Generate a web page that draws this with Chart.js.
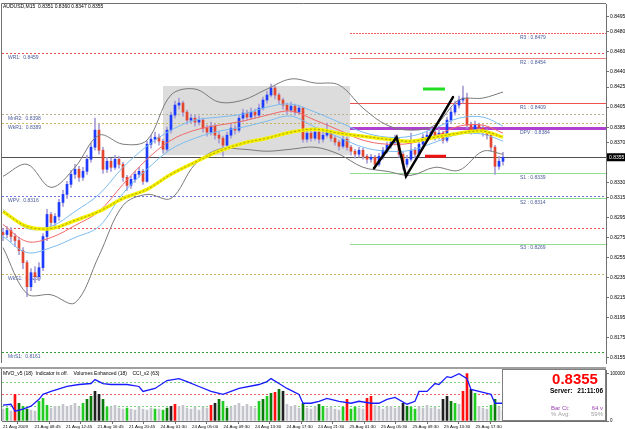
<!DOCTYPE html>
<html>
<head>
<meta charset="utf-8">
<script src="https://cdn.jsdelivr.net/npm/chart.js@4/dist/chart.umd.min.js"></script>
<style>
  html, body { margin: 0; padding: 0; background: #fff; }
  #wrap { position: relative; width: 625px; height: 429px; overflow: hidden; background: #fff; }
  #main { position: absolute; left: 0; top: 0; }
  #sub { position: absolute; left: 0; top: 367px; }
</style>
</head>
<body>
<div id="wrap">
  <canvas id="main" width="625" height="367"></canvas>
  <canvas id="sub" width="625" height="62"></canvas>
</div>
<script>
/* global Chart */

// ---- data (prices in pips, 8355 = 0.8355) ----
const symbol = 'AUDUSD,M15';
const timeLabels = ['21 Aug 2009', '21 Aug 08:45', '21 Aug 12:45', '21 Aug 16:45', '21 Aug 20:45',
  '24 Aug 01:30', '24 Aug 05:00', '24 Aug 09:30', '24 Aug 13:30', '24 Aug 17:30', '24 Aug 21:30',
  '25 Aug 01:30', '25 Aug 05:30', '25 Aug 09:30', '25 Aug 13:30', '25 Aug 17:30'];
const priceTicks = [0.8495, 0.8480, 0.8460, 0.8440, 0.8425, 0.8405, 0.8385, 0.8370, 0.8330, 0.8315,
  0.8295, 0.8275, 0.8255, 0.8235, 0.8215, 0.8195, 0.8175, 0.8155];

const firstOpen = 8280;
const closes = [
  8278, 8282, 8276, 8272, 8262, 8250, 8226, 8240, 8236, 8245,
  8276, 8298, 8290, 8296, 8310, 8318, 8328, 8338, 8343, 8335,
  8341, 8353, 8365, 8382, 8362, 8343, 8351, 8345, 8353, 8348,
  8335, 8327, 8333, 8338, 8341, 8331, 8368, 8373, 8375, 8371,
  8363, 8382, 8397, 8407, 8409, 8400, 8392, 8394, 8390, 8392,
  8384, 8380, 8386, 8377, 8374, 8367, 8377, 8384, 8382, 8394,
  8399, 8395, 8400, 8397, 8404, 8412, 8417, 8424, 8417, 8412,
  8407, 8402, 8406, 8400, 8404, 8373, 8379, 8374, 8380, 8373,
  8377, 8380, 8374, 8370, 8366, 8373, 8365, 8361, 8358, 8362,
  8356, 8353, 8355, 8348, 8356, 8362, 8367, 8370, 8372, 8358,
  8348, 8353, 8362, 8358, 8368, 8375, 8377, 8380, 8375, 8379,
  8372, 8392, 8400, 8407, 8412, 8414, 8387, 8382, 8387, 8384,
  8380, 8377, 8365, 8346, 8351, 8355];
const highs = [
  8284, 8286, 8285, 8279, 8275, 8265, 8252, 8244, 8246, 8250,
  8279, 8303, 8300, 8299, 8313, 8322, 8331, 8342, 8348, 8346,
  8345, 8357, 8369, 8394, 8388, 8365, 8355, 8354, 8357, 8356,
  8350, 8337, 8336, 8341, 8345, 8343, 8371, 8377, 8380, 8378,
  8373, 8385, 8400, 8411, 8414, 8411, 8402, 8398, 8397, 8396,
  8394, 8387, 8390, 8388, 8380, 8376, 8380, 8388, 8387, 8397,
  8403, 8402, 8404, 8403, 8408, 8415, 8421, 8428, 8426, 8419,
  8414, 8409, 8410, 8408, 8407, 8405, 8383, 8381, 8383, 8382,
  8381, 8389, 8382, 8376, 8372, 8376, 8375, 8367, 8363, 8365,
  8364, 8358, 8358, 8357, 8359, 8365, 8370, 8374, 8377, 8374,
  8360, 8357, 8379, 8365, 8371, 8378, 8381, 8384, 8382, 8383,
  8381, 8395, 8404, 8411, 8416, 8426, 8419, 8390, 8391, 8389,
  8387, 8383, 8379, 8367, 8356, 8360];
const lows = [
  8272, 8275, 8271, 8266, 8258, 8244, 8216, 8222, 8230, 8232,
  8242, 8272, 8285, 8286, 8292, 8306, 8314, 8325, 8334, 8331,
  8332, 8338, 8350, 8362, 8358, 8339, 8340, 8341, 8343, 8344,
  8331, 8322, 8324, 8330, 8335, 8328, 8330, 8364, 8369, 8367,
  8359, 8361, 8379, 8394, 8403, 8396, 8388, 8389, 8386, 8387,
  8380, 8376, 8377, 8373, 8369, 8356, 8364, 8374, 8378, 8380,
  8391, 8392, 8393, 8394, 8395, 8402, 8409, 8415, 8413, 8408,
  8403, 8398, 8400, 8397, 8398, 8370, 8370, 8371, 8372, 8369,
  8370, 8375, 8371, 8367, 8362, 8364, 8362, 8357, 8354, 8355,
  8353, 8349, 8350, 8344, 8346, 8353, 8359, 8364, 8367, 8355,
  8343, 8345, 8351, 8354, 8356, 8365, 8372, 8374, 8372, 8373,
  8369, 8370, 8389, 8397, 8404, 8409, 8384, 8378, 8379, 8380,
  8376, 8373, 8361, 8338, 8343, 8347];

// indicator lines, read every 6 bars
const maBars = [0, 6, 12, 18, 24, 30, 36, 42, 48, 54, 60, 66, 72, 78, 84, 90, 96, 102, 108, 114, 120, 125];
const yellowMa = [8301, 8286, 8284, 8292, 8301, 8314, 8323, 8338, 8350, 8361, 8369, 8374, 8380, 8383, 8379, 8376, 8373, 8371, 8375, 8379, 8381, 8375];
const redMa = [8288, 8271, 8275, 8287, 8301, 8328, 8353, 8372, 8382, 8387, 8391, 8397, 8401, 8392, 8382, 8372, 8368, 8369, 8376, 8386, 8387, 8379];
const envUpper = [8303, 8284, 8286, 8301, 8318, 8345, 8366, 8382, 8392, 8395, 8398, 8405, 8408, 8400, 8390, 8380, 8375, 8376, 8384, 8394, 8395, 8386];
const envLower = [8276, 8260, 8265, 8275, 8286, 8319, 8343, 8363, 8374, 8381, 8385, 8391, 8396, 8385, 8375, 8365, 8361, 8362, 8370, 8378, 8378, 8371];
const bandUpper = [8336, 8348, 8325, 8345, 8377, 8368, 8372, 8417, 8423, 8410, 8412, 8423, 8433, 8429, 8427, 8404, 8387, 8382, 8387, 8412, 8414, 8420];
const bandLower = [8265, 8219, 8218, 8210, 8257, 8307, 8318, 8314, 8348, 8363, 8363, 8361, 8363, 8365, 8358, 8345, 8341, 8337, 8345, 8342, 8361, 8358];

// pivot levels
const dailyNames = ['R3', 'R2', 'R1', 'DPV', 'S1', 'S2', 'S3'];
const dailyValues = [0.8479, 0.8454, 0.8409, 0.8384, 0.8339, 0.8314, 0.8269];
const otherNames = ['WR1', 'MnR2', 'WkR1', 'WPV', '', 'WkS1', 'MnS1'];
const otherValues = [0.8459, 0.8398, 0.8389, 0.8316, 0.8285, 0.8239, 0.8161];

// drawn objects
const boxBars = [40, 86.75];
const boxPrices = [0.8426, 0.8357];
const zigBars = [92.75, 98.4, 100.75, 112.5];
const zigPrices = [0.8344, 0.8375, 0.8336, 0.8415];
const greenMarkBars = [105, 110.5];
const greenMarkPrice = 0.8423;
const redMarkBars = [105.5, 110.75];
const redMarkPrice = 0.8356;
const dayStartBar = 86.75;

// volume panel
const volumes = [
  12, 13, 10, 27, 18, 15, 12, 11, 10, 20,
  23, 16, 13, 15, 14, 17, 15, 16, 18, 14,
  18, 22, 25, 30, 27, 22, 14, 14, 16, 13,
  12, 13, 12, 11, 14, 12, 11, 13, 12, 12,
  11, 13, 15, 17, 15, 16, 13, 12, 14, 11,
  14, 13, 16, 18, 22, 20, 13, 14, 16, 18,
  15, 17, 15, 13, 20, 22, 25, 28, 29, 32,
  30, 17, 15, 16, 13, 18, 13, 12, 14, 17,
  15, 13, 14, 12, 11, 14, 22, 12, 14, 13,
  12, 23, 25, 16, 14, 12, 14, 15, 13, 14,
  18, 15, 14, 12, 15, 13, 16, 13, 14, 12,
  22, 25, 20, 18, 17, 30, 48, 32, 28, 15,
  13, 12, 16, 22, 14, 10];
const volumeKinds = [
  'g', 'G', 'g', 'r', 'd', 'G', 'd', 'g', 'g', 'G',
  'G', 'G', 'g', 'g', 'g', 'g', 'g', 'g', 'g', 'g',
  'G', 'd', 'd', 'k', 'k', 'd', 'G', 'g', 'g', 'g',
  'g', 'G', 'g', 'g', 'g', 'g', 'g', 'g', 'G', 'g',
  'G', 'd', 'k', 'r', 'g', 'g', 'g', 'g', 'g', 'g',
  'g', 'g', 'r', 'k', 'd', 'G', 'd', 'g', 'g', 'g',
  'g', 'g', 'g', 'g', 'G', 'd', 'G', 'd', 'r', 'd',
  'k', 'g', 'g', 'g', 'g', 'd', 'g', 'g', 'g', 'd',
  'G', 'g', 'g', 'g', 'g', 'G', 'r', 'G', 'G', 'g',
  'g', 'r', 'r', 'g', 'g', 'g', 'g', 'g', 'g', 'g',
  'k', 'd', 'G', 'G', 'g', 'g', 'g', 'g', 'g', 'g',
  'k', 'k', 'd', 'G', 'g', 'r', 'r', 'k', 'G', 'g',
  'g', 'g', 'G', 'd', 'g', 'g'];
const cciBars = [0, 2, 3, 5, 7, 9, 10, 12, 16, 19, 22, 23, 25, 27, 31, 34, 35, 38, 41, 44, 46, 49, 52, 55,
  57, 59, 64, 66, 67, 69, 71, 74, 75, 77, 79, 81, 84, 87, 89, 92, 94, 96, 98, 101, 103, 104, 106, 108,
  109, 111, 112, 114, 116, 117, 119, 121, 122, 123, 125];
const cciValues = [16, 17, 10, 12, 15, 22, 27, 30, 35, 37, 38, 42, 38, 37, 37, 35, 30, 33, 41, 43, 40, 35, 30, 27,
  30, 33, 37, 40, 43, 38, 33, 27, 18, 18, 20, 23, 20, 18, 20, 18, 18, 22, 24, 17, 20, 30, 30, 38,
  37, 45, 44, 48, 43, 32, 30, 28, 27, 18, 18];
const subLevels = [40, 27, 15];

const serverTime = '21:11:06';
const barCount = '64 v';
const avgPct = '59%';

// ---- building ----
const FONT = 'Liberation Sans, Arial, sans-serif';
const P = v => v / 10000;
const opens = closes.map((c, i) => (i === 0 ? firstOpen : closes[i - 1]));
const lastIdx = closes.length - 1;
const xMin = -0.25;
const xMax = 150.75;

const volColor = { g: '#c4c4cc', G: '#22cc22', d: '#0a7a0a', k: '#202020', r: '#ff1010' };

function lineSet(values, color, width, order, dash) {
  return {
    type: 'line',
    data: maBars.map((b, k) => ({ x: b, y: P(values[k]) })),
    borderColor: color,
    borderWidth: width,
    borderDash: dash || [],
    pointRadius: 0,
    tension: 0.35,
    order: order
  };
}

function hLine(ctx, chart, value, fromBar, color, width, dash) {
  const xs = chart.scales.x, ys = chart.scales.y;
  const y = Math.round(ys.getPixelForValue(value)) + (width % 2 ? 0.5 : 0);
  const x0 = fromBar == null ? chart.chartArea.left : xs.getPixelForValue(fromBar);
  ctx.save();
  ctx.strokeStyle = color;
  ctx.lineWidth = width;
  ctx.setLineDash(dash || []);
  ctx.beginPath();
  ctx.moveTo(x0, y);
  ctx.lineTo(chart.chartArea.right, y);
  ctx.stroke();
  ctx.restore();
}

const dailyStyle = {
  R3: ['#f06060', 1, [2, 1]], R2: ['#f08080', 1, []], R1: ['#f05050', 1, []],
  DPV: ['#b040d0', 3, []], S1: ['#90dc90', 1, []], S2: ['#90dc90', 1, []], S3: ['#90dc90', 1, []]
};
const otherStyle = ['#f05050', '#b8b090', '#c8b464', '#7070e0', '#f05050', '#c8b464', '#30a030'];

const mainOverlay = {
  id: 'mainOverlay',
  beforeDatasetsDraw(chart) {
    const { ctx, chartArea: a } = chart;
    const xs = chart.scales.x, ys = chart.scales.y;
    // shaded rectangle
    ctx.save();
    ctx.fillStyle = '#dcdcdc';
    const bx0 = xs.getPixelForValue(boxBars[0]), bx1 = xs.getPixelForValue(boxBars[1]);
    const by0 = ys.getPixelForValue(boxPrices[0]), by1 = ys.getPixelForValue(boxPrices[1]);
    ctx.fillRect(bx0, by0, bx1 - bx0, by1 - by0);
    ctx.restore();

    ctx.save();
    ctx.font = '5px ' + FONT;
    ctx.textBaseline = 'top';
    otherValues.forEach((v, k) => {
      hLine(ctx, chart, v, null, otherStyle[k], 1, [2, 2]);
      if (otherNames[k]) {
        ctx.fillStyle = '#4a5a9a';
        ctx.fillText(otherNames[k] + ':  ' + v.toFixed(4), a.left + 6, ys.getPixelForValue(v) + 2);
      }
    });
    dailyValues.forEach((v, k) => {
      const s = dailyStyle[dailyNames[k]];
      hLine(ctx, chart, v, dayStartBar, s[0], s[1], s[2]);
      ctx.fillStyle = '#4a5a9a';
      ctx.fillText(dailyNames[k] + ' : ' + v.toFixed(4), 520, ys.getPixelForValue(v) + 2);
    });
    // current price line
    hLine(ctx, chart, P(closes[lastIdx]), null, '#505050', 1, []);
    ctx.restore();
  },
  afterDatasetsDraw(chart) {
    const { ctx } = chart;
    const xs = chart.scales.x, ys = chart.scales.y;
    ctx.save();
    ctx.lineCap = 'round';
    ctx.strokeStyle = '#000';
    ctx.lineWidth = 2.5;
    ctx.beginPath();
    zigBars.forEach((b, k) => {
      const x = xs.getPixelForValue(b), y = ys.getPixelForValue(zigPrices[k]);
      if (k === 0) ctx.moveTo(x, y); else ctx.lineTo(x, y);
    });
    ctx.stroke();
    ctx.lineCap = 'butt';
    ctx.lineWidth = 3;
    ctx.strokeStyle = '#22dd22';
    ctx.beginPath();
    ctx.moveTo(xs.getPixelForValue(greenMarkBars[0]), ys.getPixelForValue(greenMarkPrice));
    ctx.lineTo(xs.getPixelForValue(greenMarkBars[1]), ys.getPixelForValue(greenMarkPrice));
    ctx.stroke();
    ctx.strokeStyle = '#ee1111';
    ctx.beginPath();
    ctx.moveTo(xs.getPixelForValue(redMarkBars[0]), ys.getPixelForValue(redMarkPrice));
    ctx.lineTo(xs.getPixelForValue(redMarkBars[1]), ys.getPixelForValue(redMarkPrice));
    ctx.stroke();
    ctx.restore();
  },
  afterDraw(chart) {
    const { ctx, chartArea: a } = chart;
    const ys = chart.scales.y;
    ctx.save();
    // frame
    ctx.strokeStyle = '#707070';
    ctx.lineWidth = 1;
    ctx.beginPath();
    ctx.moveTo(a.left - 0.5, a.bottom);
    ctx.lineTo(a.left - 0.5, a.top - 0.5);
    ctx.lineTo(a.right, a.top - 0.5);
    ctx.stroke();
    // header
    ctx.font = '5px ' + FONT;
    ctx.fillStyle = '#000';
    ctx.textBaseline = 'middle';
    const hdr = symbol + '  ' + [opens[lastIdx], highs[lastIdx], lows[lastIdx], closes[lastIdx]]
      .map(v => P(v).toFixed(4)).join(' ');
    ctx.fillText(hdr, a.left + 1, 7);
    // last price tag on the axis
    const y = ys.getPixelForValue(P(closes[lastIdx]));
    ctx.fillStyle = '#000';
    ctx.fillRect(a.right + 1, y - 4, 18, 8);
    ctx.fillStyle = '#fff';
    ctx.fillText(P(closes[lastIdx]).toFixed(4), a.right + 3, y + 0.5);
    ctx.restore();
  }
};

const mainChart = new Chart(document.getElementById('main'), {
  type: 'bar',
  data: {
    datasets: [
      lineSet(bandUpper, '#7a7a7a', 1, 6),
      lineSet(bandLower, '#7a7a7a', 1, 6),
      lineSet(envUpper, '#7cbcf0', 1, 5),
      lineSet(envLower, '#7cbcf0', 1, 5),
      lineSet(redMa, '#f06a6a', 1, 4),
      lineSet(yellowMa, '#f4f000', 3.5, 3),
      lineSet(yellowMa, '#a8a000', 1, 2, [2, 2]),
      {
        type: 'bar',
        data: closes.map((c, i) => ({ x: i, y: [P(lows[i]), P(highs[i])] })),
        backgroundColor: '#a89ed6',
        barThickness: 1,
        grouped: false,
        order: 21
      },
      {
        type: 'bar',
        data: closes.map((c, i) => ({ x: i, y: [P(opens[i]), P(c)] })),
        backgroundColor: closes.map((c, i) => (c >= opens[i] ? '#1d3cff' : '#e2462e')),
        barThickness: 2,
        minBarLength: 1,
        grouped: false,
        order: 20
      }
    ]
  },
  options: {
    responsive: false,
    animation: false,
    events: [],
    layout: { padding: { left: 2, top: 2, right: 0, bottom: 0 } },
    scales: {
      x: { type: 'linear', min: xMin, max: xMax, display: false, offset: false },
      y: {
        position: 'right',
        min: 0.8150,
        max: 0.85077,
        afterBuildTicks: s => { s.ticks = priceTicks.map(v => ({ value: v })); },
        afterFit: s => { s.width = 19; },
        ticks: {
          autoSkip: false,
          font: { family: FONT, size: 5 },
          color: '#000',
          padding: 1,
          callback: v => v.toFixed(4)
        },
        grid: { drawOnChartArea: false, tickLength: 3, color: '#707070' },
        border: { color: '#707070' }
      }
    },
    plugins: { legend: { display: false }, tooltip: { enabled: false } }
  },
  plugins: [mainOverlay]
});

const subOverlay = {
  id: 'subOverlay',
  beforeDatasetsDraw(chart) {
    const { ctx, chartArea: a } = chart;
    const ys = chart.scales.y;
    const colors = ['#7ad67a', '#f06060', '#7ad67a'];
    ctx.save();
    ctx.setLineDash([2, 2]);
    subLevels.forEach((v, k) => {
      const y = Math.round(ys.getPixelForValue(v)) + 0.5;
      ctx.strokeStyle = colors[k];
      ctx.beginPath();
      ctx.moveTo(a.left, y);
      ctx.lineTo(a.right - 104, y);
      ctx.stroke();
    });
    ctx.restore();
  },
  afterDraw(chart) {
    const { ctx, chartArea: a } = chart;
    ctx.save();
    // panel separator and left frame
    ctx.fillStyle = '#a0a0a0';
    ctx.fillRect(0, 0, a.right, 2);
    ctx.strokeStyle = '#707070';
    ctx.beginPath();
    ctx.moveTo(a.left - 0.5, 2);
    ctx.lineTo(a.left - 0.5, a.bottom);
    ctx.stroke();
    // indicator header
    ctx.font = '5px ' + FONT;
    ctx.fillStyle = '#000';
    ctx.textBaseline = 'middle';
    ctx.fillText('MVO_v5 (18)  Indicator is off.    Volumes Enhanced (18)    CCI_v2 (63)', a.left + 1, 7);
    // info box
    const bx = a.right - 104, by = 2, bw = 104, bh = a.bottom - 2;
    ctx.fillStyle = '#fff';
    ctx.fillRect(bx, by, bw, bh);
    ctx.strokeStyle = '#808080';
    ctx.strokeRect(bx + 0.5, by + 0.5, bw - 1, bh - 1);
    ctx.textBaseline = 'alphabetic';
    ctx.textAlign = 'center';
    ctx.fillStyle = '#ff0000';
    ctx.font = 'bold 15px ' + FONT;
    ctx.fillText(P(closes[lastIdx]).toFixed(4), bx + 73, 17);
    ctx.font = 'bold 6.5px ' + FONT;
    ctx.fillStyle = '#000';
    ctx.textAlign = 'left';
    ctx.fillText('Server:', bx + 48, 26);
    ctx.textAlign = 'right';
    ctx.fillText(serverTime, bx + bw - 3, 26);
    ctx.font = '6px ' + FONT;
    ctx.fillStyle = '#9a3fb0';
    ctx.textAlign = 'left';
    ctx.fillText('Bar Ct:', bx + 49, 43);
    ctx.textAlign = 'right';
    ctx.fillText(barCount, bx + bw - 3, 43);
    ctx.fillStyle = '#a0a0a0';
    ctx.textAlign = 'left';
    ctx.fillText('% Avg:', bx + 49, 49);
    ctx.textAlign = 'right';
    ctx.fillText(avgPct, bx + bw - 3, 49);
    ctx.restore();
  }
};

const subChart = new Chart(document.getElementById('sub'), {
  type: 'bar',
  data: {
    datasets: [
      {
        type: 'line',
        data: cciBars.map((b, k) => ({ x: b, y: cciValues[k] })),
        borderColor: '#1a1aff',
        borderWidth: 1.3,
        pointRadius: 0,
        tension: 0,
        order: 1
      },
      {
        type: 'bar',
        data: volumes.map((v, i) => ({ x: i, y: v })),
        backgroundColor: volumeKinds.map(k => volColor[k]),
        barThickness: 2,
        grouped: false,
        order: 2
      }
    ]
  },
  options: {
    responsive: false,
    animation: false,
    events: [],
    layout: { padding: { left: 2, top: 3, right: 0, bottom: 0 } },
    scales: {
      x: {
        type: 'linear',
        min: xMin,
        max: xMax,
        offset: false,
        afterBuildTicks: s => { s.ticks = timeLabels.map((t, k) => ({ value: xMin + k * 7.875 })); },
        afterFit: s => { s.height = 8; },
        ticks: {
          autoSkip: false,
          maxRotation: 0,
          align: 'start',
          labelOffset: 1,
          padding: 0,
          font: { family: FONT, size: 4.4 },
          color: '#000',
          callback: (v, k) => timeLabels[k]
        },
        grid: { drawOnChartArea: false, tickLength: 3, color: '#707070' },
        border: { color: '#707070' }
      },
      y: {
        position: 'right',
        min: 0,
        max: 51,
        afterBuildTicks: s => { s.ticks = [{ value: 48 }, { value: 0 }]; },
        afterFit: s => { s.width = 19; },
        ticks: {
          autoSkip: false,
          font: { family: FONT, size: 4.5 },
          color: '#000',
          padding: 1,
          callback: v => (v === 0 ? '0' : '1000000')
        },
        grid: { drawOnChartArea: false, tickLength: 3, color: '#707070' },
        border: { color: '#707070' }
      }
    },
    plugins: { legend: { display: false }, tooltip: { enabled: false } }
  },
  plugins: [subOverlay]
});
</script>
</body>
</html>
